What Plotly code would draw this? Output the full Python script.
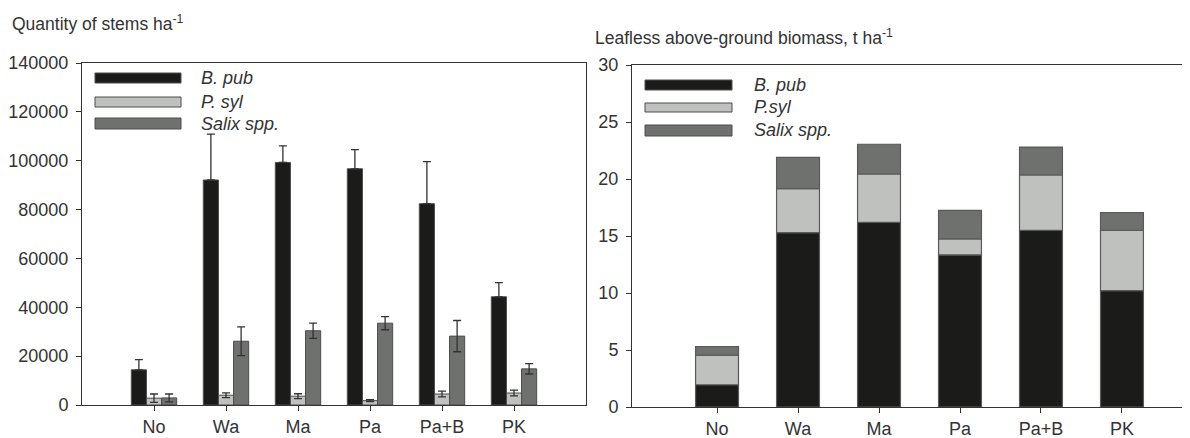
import plotly.graph_objects as go

# ---------------- data ----------------
categories = ["No", "Wa", "Ma", "Pa", "Pa+B", "PK"]

# Left panel: quantity of stems per ha (mean and error)
stems_bpub = [14400, 92100, 99300, 96700, 82400, 44300]
stems_bpub_err = [4200, 18800, 6800, 7800, 17200, 5800]
stems_psyl = [2800, 4000, 3600, 1800, 4500, 4900]
stems_psyl_err = [1700, 1000, 1000, 400, 1200, 1200]
stems_salix = [2900, 26100, 30400, 33500, 28200, 14800]
stems_salix_err = [1600, 5900, 3100, 2700, 6400, 2100]

# Right panel: leafless above-ground biomass, t per ha (stacked)
bio_bpub = [1.95, 15.3, 16.2, 13.35, 15.5, 10.2]
bio_psyl = [2.6, 3.85, 4.25, 1.4, 4.85, 5.3]
bio_salix = [0.75, 2.75, 2.6, 2.5, 2.45, 1.55]

left_legend = ["B. pub", "P. syl", "Salix spp."]
right_legend = ["B. pub", "P.syl", "Salix spp."]

# ---------------- style ----------------
C_BLACK = "#1b1c1a"
C_LIGHT = "#bfc1bf"
C_DARK = "#6f716f"
OUTLINE = "#4d4d4d"
AX = "#333333"
FONT = "Liberation Sans, Arial, sans-serif"
OFF = 8                 # page body margin of the browser
W, H = 1190 - OFF, 438 - OFF


def px(x):
    return (x - OFF) / W


def py(y):
    return 1 - (y - OFF) / H


fig = go.Figure()

# Left grouped bars
bw = 0.21
for vals, errs, col, off, lower in [
    (stems_bpub, stems_bpub_err, C_BLACK, -1.5 * bw, False),
    (stems_psyl, stems_psyl_err, C_LIGHT, -0.5 * bw, True),
    (stems_salix, stems_salix_err, C_DARK, 0.5 * bw, True),
]:
    err = dict(type="data", array=errs, visible=True, color=AX,
               thickness=1.3, width=4)
    if not lower:
        err.update(symmetric=False, arrayminus=[0 for _ in errs])
    fig.add_trace(go.Bar(
        x=categories, y=vals, width=bw, offset=off,
        marker=dict(color=col, line=dict(color=OUTLINE, width=1)),
        error_y=err,
        xaxis="x", yaxis="y", showlegend=False,
    ))

# Right stacked bars
bw2 = 0.53
base = [0.0] * len(categories)
for vals, col in [(bio_bpub, C_BLACK), (bio_psyl, C_LIGHT), (bio_salix, C_DARK)]:
    fig.add_trace(go.Bar(
        x=categories, y=vals, base=list(base), width=bw2, offset=-bw2 / 2,
        marker=dict(color=col, line=dict(color="#5a5a5a", width=1.2)),
        xaxis="x2", yaxis="y2", showlegend=False,
    ))
    base = [b + v for b, v in zip(base, vals)]

tickfont = dict(family=FONT, size=18, color=AX)
axis_common = dict(showgrid=False, zeroline=False, showline=True, linecolor=AX,
                   linewidth=1, ticks="outside", ticklen=5, tickcolor=AX,
                   tickfont=tickfont, automargin=False)

fig.update_layout(
    width=W, height=H,
    margin=dict(l=0, r=0, t=0, b=0, pad=0, autoexpand=False),
    paper_bgcolor="white", plot_bgcolor="white",
    barmode="overlay",
    showlegend=False,
    xaxis=dict(domain=[px(82), px(586)], anchor="y", type="category",
               range=[-1, 6], mirror=True, ticklabelstandoff=0, **axis_common),
    yaxis=dict(domain=[py(405), py(63)], anchor="x", range=[0, 140000],
               tickvals=[0, 20000, 40000, 60000, 80000, 100000, 120000, 140000],
               ticktext=["0", "20000", "40000", "60000", "80000", "100000",
                         "120000", "140000"],
               mirror=True, ticklabelstandoff=4, **axis_common),
    xaxis2=dict(domain=[px(632), 1.0], anchor="y2", type="category",
                range=[-1.05, 5.84], mirror=True, ticklabelstandoff=0,
                **axis_common),
    yaxis2=dict(domain=[py(407), py(65)], anchor="x2", range=[0, 30],
                tickvals=[0, 5, 10, 15, 20, 25, 30], ticklabelstandoff=4,
                **axis_common),
)

# Titles
fig.add_annotation(x=px(10), y=py(23), xref="paper", yref="paper",
                   xanchor="left", yanchor="middle", showarrow=False,
                   text="Quantity of stems ha<sup>-1</sup>",
                   font=dict(family=FONT, size=17.5, color=AX))
fig.add_annotation(x=px(593), y=py(37), xref="paper", yref="paper",
                   xanchor="left", yanchor="middle", showarrow=False,
                   text="Leafless above-ground biomass, t ha<sup>-1</sup>",
                   font=dict(family=FONT, size=17.5, color=AX))

# Custom legends (wide swatches like the original)
colors = [C_BLACK, C_LIGHT, C_DARK]
left_rows = [(73, 83, 78), (97, 107, 102), (118, 129, 124)]
right_rows = [(80, 90, 85), (103, 112, 107), (125, 136, 130)]
for (names, rows, sx0, sx1, tx) in [
    (left_legend, left_rows, 95, 181, 199),
    (right_legend, right_rows, 645, 732, 752),
]:
    for name, (y0, y1, yc), col in zip(names, rows, colors):
        fig.add_shape(type="rect", xref="paper", yref="paper",
                      x0=px(sx0), x1=px(sx1), y0=py(y1), y1=py(y0),
                      fillcolor=col, line=dict(color=OUTLINE, width=1))
        fig.add_annotation(x=px(tx), y=py(yc), xref="paper", yref="paper",
                           xanchor="left", yanchor="middle", showarrow=False,
                           text="<i>" + name + "</i>",
                           font=dict(family=FONT, size=18, color=AX))

fig.write_html("out.html")
